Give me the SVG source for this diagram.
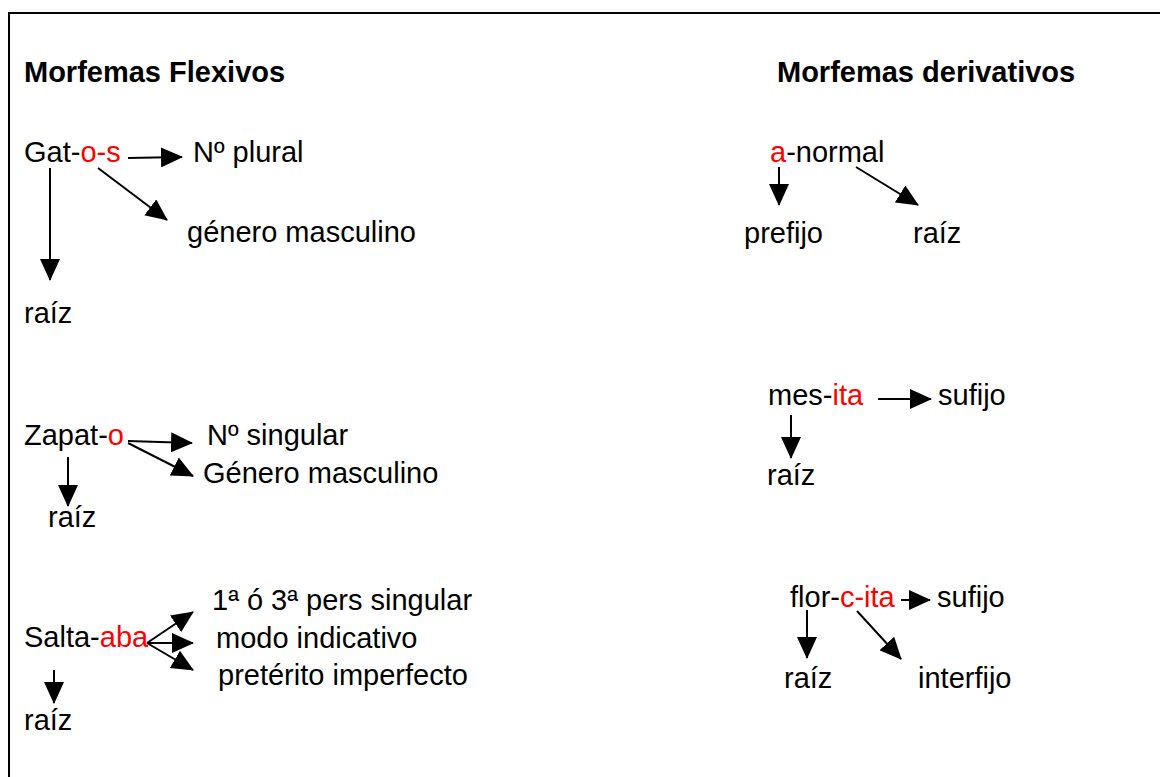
<svg xmlns="http://www.w3.org/2000/svg" width="1160" height="777" viewBox="0 0 1160 777">
<style>
text{font-family:"Liberation Sans",Arial,sans-serif;font-size:29px;fill:#000}
.t{font-weight:bold}
.r{fill:#ff0000}
.c{stroke:#000;stroke-width:2;fill:none;marker-end:url(#ah)}
</style>
<defs>
<marker id="ah" markerUnits="userSpaceOnUse" markerWidth="22" markerHeight="20" refX="21" refY="10" orient="auto" viewBox="0 0 22 20">
<path d="M0,0 L22,10 L0,20 z" fill="#000"/>
</marker>
</defs>
<rect width="1160" height="777" fill="#fff"/>
<g id="frame" stroke="#000" stroke-width="2">
<line x1="8" y1="13" x2="1160" y2="13"/>
<line x1="9" y1="12" x2="9" y2="777"/>
</g>
<g id="titulo-flexivos"><text class="t" x="24" y="82">Morfemas Flexivos</text></g>
<g id="titulo-derivativos"><text class="t" x="777" y="82">Morfemas derivativos</text></g>
<g id="gatos"><text x="24" y="162">Gat-<tspan class="r">o-s</tspan></text></g>
<g id="gatos-plural"><text x="193" y="162">Nº plural</text></g>
<g id="gatos-genero"><text x="187" y="242">género masculino</text></g>
<g id="gatos-raiz"><text x="24" y="323">raíz</text></g>
<g id="zapato"><text x="24" y="445">Zapat-<tspan class="r">o</tspan></text></g>
<g id="zapato-singular"><text x="207" y="445">Nº singular</text></g>
<g id="zapato-genero"><text x="203" y="483">Género masculino</text></g>
<g id="zapato-raiz"><text x="48" y="527">raíz</text></g>
<g id="saltaba"><text x="24" y="647">Salta-<tspan class="r">aba</tspan></text></g>
<g id="saltaba-pers"><text x="212" y="610">1ª ó 3ª pers singular</text></g>
<g id="saltaba-modo"><text x="216" y="648">modo indicativo</text></g>
<g id="saltaba-tiempo"><text x="218" y="685">pretérito imperfecto</text></g>
<g id="saltaba-raiz"><text x="24" y="730">raíz</text></g>
<g id="anormal"><text x="770" y="162"><tspan class="r">a</tspan>-normal</text></g>
<g id="anormal-prefijo"><text x="744" y="243">prefijo</text></g>
<g id="anormal-raiz"><text x="913" y="243">raíz</text></g>
<g id="mesita"><text x="768" y="405">mes-<tspan class="r">ita</tspan></text></g>
<g id="mesita-sufijo"><text x="938" y="405">sufijo</text></g>
<g id="mesita-raiz"><text x="767" y="485">raíz</text></g>
<g id="florcita"><text x="790" y="607">flor-<tspan class="r">c-ita</tspan></text></g>
<g id="florcita-sufijo"><text x="937" y="607">sufijo</text></g>
<g id="florcita-raiz"><text x="784" y="688">raíz</text></g>
<g id="florcita-interfijo"><text x="918" y="688">interfijo</text></g>
<g id="connectors">
<line class="c" x1="128" y1="158" x2="182" y2="157"/>
<line class="c" x1="98" y1="168" x2="167" y2="220"/>
<line class="c" x1="50" y1="168" x2="50" y2="280"/>
<line class="c" x1="128" y1="441" x2="192" y2="443"/>
<line class="c" x1="128" y1="443" x2="193" y2="476"/>
<line class="c" x1="68" y1="457" x2="68" y2="506"/>
<line class="c" x1="147" y1="643" x2="193" y2="612"/>
<line class="c" x1="147" y1="643" x2="193" y2="643"/>
<line class="c" x1="147" y1="643" x2="193" y2="670"/>
<line class="c" x1="54" y1="670" x2="54" y2="703"/>
<line class="c" x1="779" y1="167" x2="779" y2="205"/>
<line class="c" x1="856" y1="167" x2="918" y2="205"/>
<line class="c" x1="878" y1="399" x2="931" y2="399"/>
<line class="c" x1="791" y1="415" x2="791" y2="458"/>
<line class="c" x1="901" y1="600" x2="930" y2="600"/>
<line class="c" x1="807" y1="610" x2="807" y2="658"/>
<line class="c" x1="857" y1="611" x2="901" y2="659"/>
</g>
</svg>
